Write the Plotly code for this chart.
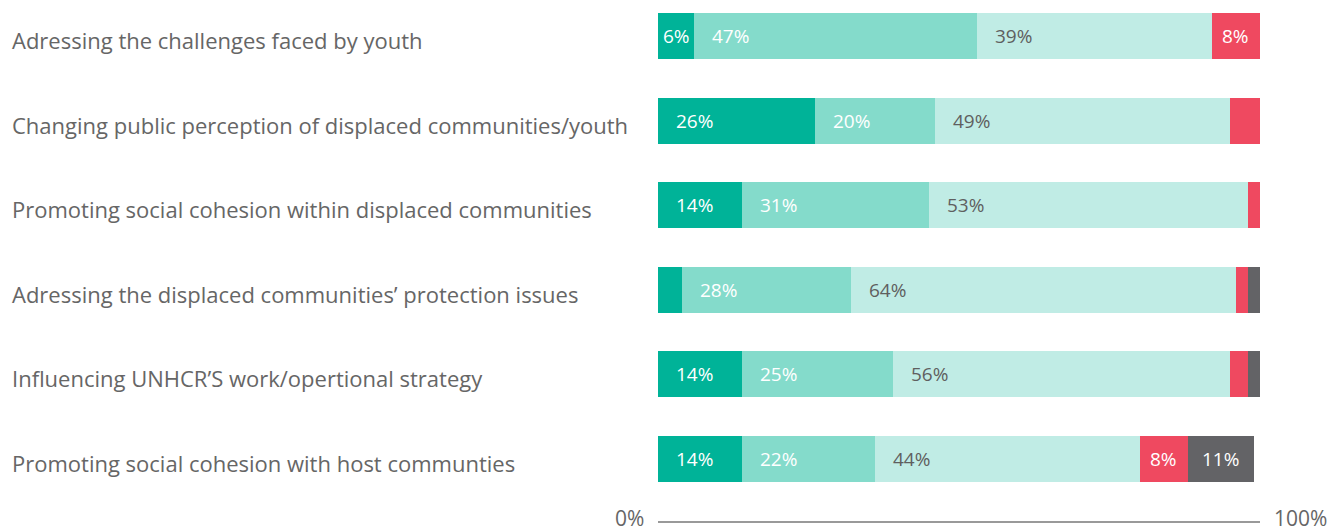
import plotly.graph_objects as go

# Survey topics and share of responses per rating band (percent)
topics = [
    "Adressing the challenges faced by youth",
    "Changing public perception of displaced communities/youth",
    "Promoting social cohesion within displaced communities",
    "Adressing the displaced communities’ protection issues",
    "Influencing UNHCR’S work/opertional strategy",
    "Promoting social cohesion with host communties",
]
band_1 = [6, 26, 14, 4, 14, 14]
band_2 = [47, 20, 31, 28, 25, 22]
band_3 = [39, 49, 53, 64, 56, 44]
band_4 = [8, 5, 2, 2, 3, 8]
band_5 = [0, 0, 0, 2, 2, 11]
axis_labels = ["0%", "100%"]

bands = [band_1, band_2, band_3, band_4, band_5]
colors = ["#00b398", "#84dbcb", "#c0ece5", "#ef4960", "#636366"]
text_colors = ["#ffffff", "#ffffff", "#5f5f5f", "#ffffff", "#ffffff"]

FONT = "Open Sans"
fig = go.Figure()

idx = list(range(len(topics)))
for vals, col in zip(bands, colors):
    fig.add_trace(go.Bar(
        y=idx, x=vals, orientation="h",
        marker=dict(color=col, line=dict(width=0)),
        hoverinfo="skip", showlegend=False,
    ))

annotations = []
# value labels inside segments
for r in idx:
    start = 0
    for b, vals in enumerate(bands):
        v = vals[r]
        if v >= 6:
            if v < 12:
                ann = dict(x=start + v / 2, xanchor="center", xshift=0)
            else:
                ann = dict(x=start, xanchor="left", xshift=16)
            ann.update(y=r, xref="x", yref="y", text=f"{v}%", showarrow=False,
                       font=dict(family=FONT, size=19, color=text_colors[b]))
            annotations.append(ann)
        start += v

# topic labels, left aligned
for r, t in enumerate(topics):
    annotations.append(dict(
        x=0, xref="paper", xanchor="left", y=r, yref="y", yshift=-4,
        text=t, showarrow=False,
        font=dict(family=FONT, size=22, color="#666666"),
    ))

# bottom scale line and end labels
LINE_Y = 0.0188
LABEL_Y = 0.0263
annotations.append(dict(x=0, xref="x", xanchor="right", xshift=-12,
                        y=LABEL_Y, yref="paper", yanchor="middle", text=axis_labels[0],
                        showarrow=False,
                        font=dict(family=FONT, size=21, color="#666666")))
annotations.append(dict(x=100, xref="x", xanchor="left", xshift=12,
                        y=LABEL_Y, yref="paper", yanchor="middle", text=axis_labels[1],
                        showarrow=False,
                        font=dict(family=FONT, size=21, color="#666666")))

fig.add_shape(type="line", xref="x", yref="paper", x0=0, x1=100, y0=LINE_Y, y1=LINE_Y,
              line=dict(color="#777777", width=1.5))

fig.update_layout(
    width=1333, height=532,
    barmode="stack", bargap=0.456,
    margin=dict(l=10, r=73, t=0, b=0),
    paper_bgcolor="white", plot_bgcolor="white",
    annotations=annotations,
    xaxis=dict(domain=[0.5184, 1], range=[0, 100], visible=False, fixedrange=True),
    yaxis=dict(range=[5.863, -0.4255], visible=False, fixedrange=True),
)

fig.write_html("out.html", config={"displayModeBar": False})
